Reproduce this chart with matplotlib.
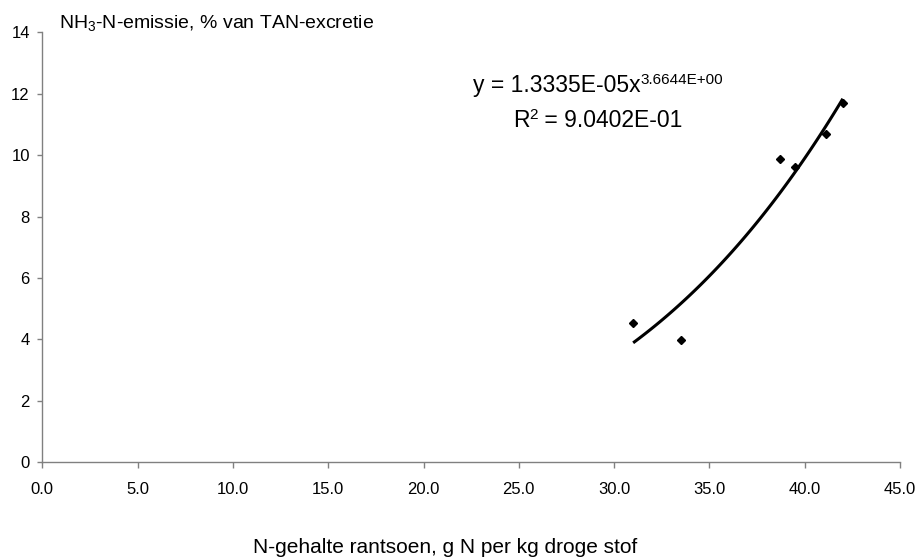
import numpy as np
import matplotlib
matplotlib.use("Agg")
import matplotlib.pyplot as plt

plt.rcParams['font.family'] = ['Liberation Sans', 'DejaVu Sans']
plt.rcParams['mathtext.fontset'] = 'custom'
plt.rcParams['mathtext.rm'] = 'Liberation Sans'

# data
n_gehalte = [31.0, 33.5, 38.7, 39.5, 41.1, 42.0]
nh3_emissie = [4.55, 3.98, 9.88, 9.61, 10.69, 11.71]

# power trend line y = a * x^b
fit_a = 1.3335e-05
fit_b = 3.6644

x_ticks = np.arange(0, 46, 5)
y_ticks = np.arange(0, 15, 2)

W, H = 920, 558
fig = plt.figure(figsize=(W / 100, H / 100), dpi=100)
ax = fig.add_axes([42.3 / W, 1 - 462.3 / H, (900 - 42.3) / W, (462.3 - 32.3) / H])

# trend line over data range
xs = np.linspace(min(n_gehalte), max(n_gehalte), 100)
ax.plot(xs, fit_a * xs ** fit_b, color='black', lw=2.2, solid_capstyle='butt')
ax.plot(n_gehalte, nh3_emissie, 'D', color='black', ms=4.5, mec='black')

ax.set_xlim(0, 45)
ax.set_ylim(0, 14)
ax.set_xticks(x_ticks)
ax.set_xticklabels([f"{v:.1f}" for v in x_ticks])
ax.set_yticks(y_ticks)

for s in ['top', 'right']:
    ax.spines[s].set_visible(False)
for s in ['left', 'bottom']:
    ax.spines[s].set_color('#808080')
    ax.spines[s].set_linewidth(1.0)
ax.tick_params(axis='x', length=4, width=1, color='#808080', pad=10, labelsize=12)
ax.tick_params(axis='y', length=3.5, width=1, color='#808080', pad=5.5, labelsize=12)

fig.text(59.3 / W, 1 - 28.3 / H, 'NH$_3$-N-emissie, % van TAN-excretie',
         fontsize=14, va='baseline', ha='left')
fig.text(445 / W, 1 - 553.3 / H, 'N-gehalte rantsoen, g N per kg droge stof',
         fontsize=15, va='baseline', ha='center')

renderer = fig.canvas.get_renderer()

# pieces of text with a raised superscript between them
def text_with_sup(x0, y0, parts, size=16.5, sup_size=11, raise_px=8):
    x = x0
    for txt, is_sup in parts:
        t = fig.text(x / W, 1 - (y0 - (raise_px if is_sup else 0)) / H, txt,
                     fontsize=sup_size if is_sup else size,
                     va='baseline', ha='left')
        bb = t.get_window_extent(renderer)
        x += bb.width

text_with_sup(473, 92.3, [('y = 1.3335E-05x', False), ('3.6644E+00', True)])
text_with_sup(513, 126.7, [('R', False), ('2', True), (' = 9.0402E-01', False)])

fig.savefig('out.png', dpi=100)
